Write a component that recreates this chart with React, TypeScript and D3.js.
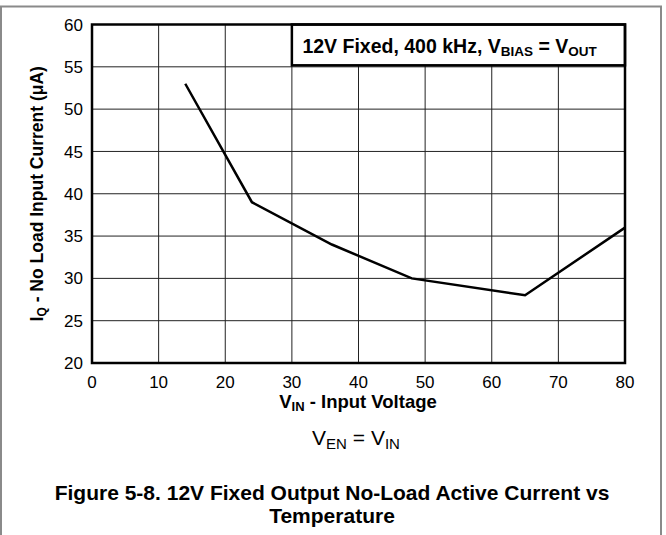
import React from "react";
import * as d3 from "d3";

const vin = [14, 24, 36, 48, 65, 80];
const iq = [53, 39, 34, 30, 28, 36];
const xTicks = [0, 10, 20, 30, 40, 50, 60, 70, 80];
const yTicks = [20, 25, 30, 35, 40, 45, 50, 55, 60];

const W = 666;
const H = 535;
const L = 92, R = 625, T = 24.5, B = 363;

export default function App() {
  const x = d3.scaleLinear().domain([0, 80]).range([L, R]);
  const y = d3.scaleLinear().domain([20, 60]).range([B, T]);
  const pts = vin.map((v, i) => [v, iq[i]] as [number, number]);
  const line = d3.line<[number, number]>().x(d => x(d[0])).y(d => y(d[1]));
  const font = "'Liberation Sans', Arial, sans-serif";
  return (
    <svg width={W} height={H} style={{ position: "absolute", left: 0, top: 0, display: "block" }} fontFamily={font}>
      <rect x={0} y={0} width={W} height={H} fill="#fff" />
      <rect x={1} y={6.5} width={660} height={H + 10} fill="none" stroke="#8a8a8a" strokeWidth={2} />
      {xTicks.map(t => (
        <line key={"gx" + t} x1={x(t)} x2={x(t)} y1={T} y2={B} stroke="#222" strokeWidth={1} />
      ))}
      {yTicks.map(t => (
        <line key={"gy" + t} x1={L} x2={R} y1={y(t)} y2={y(t)} stroke="#222" strokeWidth={1} />
      ))}
      <rect x={x(30)} y={T} width={R - x(30)} height={y(55) - T - 1.5} fill="#fff" stroke="#000" strokeWidth={2.5} />
      <text x={x(30) + 10.5} y={T + 28} fontSize={19.5} fontWeight="bold">
        12V Fixed, 400 kHz, V<tspan fontSize={13.5} dy={3}>BIAS</tspan><tspan dy={-3}> = V</tspan><tspan fontSize={13.5} dy={3}>OUT</tspan>
      </text>
      <rect x={L} y={T} width={R - L} height={B - T} fill="none" stroke="#000" strokeWidth={2.5} />
      <path d={line(pts) || ""} fill="none" stroke="#000" strokeWidth={2.5} strokeLinejoin="miter" />
      {yTicks.map(t => (
        <text key={"ty" + t} x={L - 9} y={y(t)} dy="0.36em" textAnchor="end" fontSize={17}>{t}</text>
      ))}
      {xTicks.map(t => (
        <text key={"tx" + t} x={x(t)} y={B + 25} textAnchor="middle" fontSize={17}>{t}</text>
      ))}
      <text x={358} y={408} textAnchor="middle" fontSize={18.5} fontWeight="bold">
        V<tspan fontSize={13} dy={3}>IN</tspan><tspan dy={-3}> - Input Voltage</tspan>
      </text>
      <text transform={`translate(43, ${(T + B) / 2}) rotate(-90)`} textAnchor="middle" fontSize={17.5} fontWeight="bold">
        I<tspan fontSize={12} dy={3}>Q</tspan><tspan dy={-3}> - No Load Input Current (μA)</tspan>
      </text>
      <text x={356} y={445} textAnchor="middle" fontSize={21}>
        V<tspan fontSize={15} dy={4}>EN</tspan><tspan dy={-4}> = V</tspan><tspan fontSize={15} dy={4}>IN</tspan>
      </text>
      <text x={332} y={500} textAnchor="middle" fontSize={21} fontWeight="bold">
        Figure 5-8. 12V Fixed Output No-Load Active Current vs
      </text>
      <text x={332} y={523} textAnchor="middle" fontSize={21} fontWeight="bold">
        Temperature
      </text>
    </svg>
  );
}
